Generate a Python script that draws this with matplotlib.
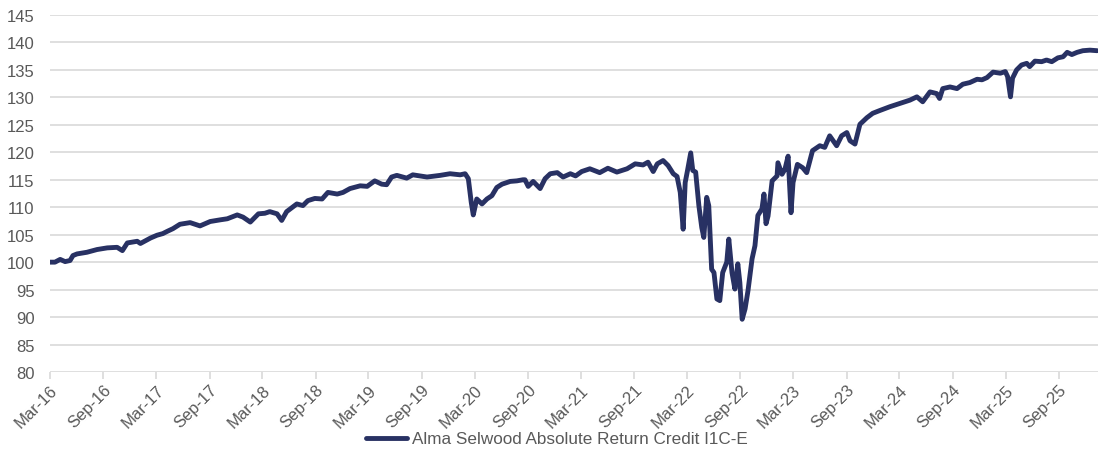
import matplotlib
matplotlib.use("Agg")
import matplotlib.pyplot as plt
import matplotlib.dates as mdates
import pandas as pd

# Fund NAV index
dates = [
    "2016-03-01", "2016-03-18", "2016-04-05", "2016-04-22", "2016-05-09", "2016-05-19",
    "2016-06-02", "2016-07-06", "2016-08-10", "2016-09-14", "2016-10-18", "2016-11-05",
    "2016-11-22", "2016-12-26", "2017-01-06", "2017-02-10", "2017-03-04", "2017-03-24",
    "2017-04-08", "2017-04-28", "2017-05-22", "2017-06-26", "2017-07-30", "2017-09-03",
    "2017-10-07", "2017-11-01", "2017-12-05", "2017-12-25", "2018-01-19", "2018-02-16",
    "2018-03-10", "2018-03-27", "2018-04-21", "2018-05-07", "2018-05-24", "2018-06-28",
    "2018-07-19", "2018-08-05", "2018-08-29", "2018-09-23", "2018-10-13", "2018-11-14",
    "2018-12-04", "2018-12-28", "2019-02-01", "2019-02-25", "2019-03-23", "2019-04-16",
    "2019-05-03", "2019-05-20", "2019-06-07", "2019-07-11", "2019-08-01", "2019-09-19",
    "2019-11-03", "2019-12-07", "2020-01-11", "2020-01-28", "2020-02-08", "2020-02-18",
    "2020-02-25", "2020-03-08", "2020-03-26", "2020-04-12", "2020-04-29", "2020-05-16",
    "2020-06-03", "2020-07-01", "2020-07-24", "2020-08-14", "2020-08-21", "2020-09-01",
    "2020-09-18", "2020-10-12", "2020-10-29", "2020-11-16", "2020-12-10", "2020-12-30",
    "2021-01-24", "2021-02-11", "2021-03-04", "2021-04-01", "2021-05-05", "2021-06-02",
    "2021-07-03", "2021-08-07", "2021-09-04", "2021-10-01", "2021-10-18", "2021-11-05",
    "2021-11-19", "2021-12-09", "2021-12-26", "2022-01-13", "2022-01-26", "2022-02-06",
    "2022-02-16", "2022-02-23", "2022-03-03", "2022-03-14", "2022-03-21", "2022-03-31",
    "2022-04-11", "2022-04-21", "2022-04-28", "2022-05-08", "2022-05-15", "2022-05-25",
    "2022-06-02", "2022-06-12", "2022-06-22", "2022-07-02", "2022-07-16", "2022-07-23",
    "2022-08-03", "2022-08-13", "2022-08-23", "2022-08-30", "2022-09-07", "2022-09-17",
    "2022-09-27", "2022-10-11", "2022-10-21", "2022-10-31", "2022-11-14", "2022-11-21",
    "2022-11-28", "2022-12-05", "2022-12-19", "2023-01-05", "2023-01-08", "2023-01-22",
    "2023-02-01", "2023-02-12", "2023-02-22", "2023-03-01", "2023-03-16", "2023-04-03",
    "2023-04-17", "2023-05-07", "2023-06-01", "2023-06-18", "2023-07-05", "2023-07-29",
    "2023-08-15", "2023-09-02", "2023-09-13", "2023-09-30", "2023-10-17", "2023-11-10",
    "2023-11-30", "2023-12-24", "2024-01-28", "2024-03-02", "2024-04-06", "2024-04-30",
    "2024-05-20", "2024-06-14", "2024-07-07", "2024-07-17", "2024-07-28", "2024-08-22",
    "2024-09-15", "2024-10-05", "2024-10-29", "2024-11-23", "2024-12-10", "2024-12-27",
    "2025-01-17", "2025-02-11", "2025-02-28", "2025-03-08", "2025-03-18", "2025-03-25",
    "2025-04-08", "2025-04-25", "2025-05-13", "2025-05-23", "2025-06-10", "2025-07-03",
    "2025-07-20", "2025-08-07", "2025-08-28", "2025-09-15", "2025-09-29", "2025-10-15",
    "2025-11-02", "2025-11-22", "2025-12-16", "2026-01-10",
]
values = [
    100.0, 100.0, 100.5, 100.1, 100.3, 101.2,
    101.5, 101.8, 102.3, 102.6, 102.7, 102.1,
    103.5, 103.8, 103.4, 104.4, 104.9, 105.2,
    105.6, 106.1, 106.9, 107.2, 106.6, 107.4,
    107.7, 107.9, 108.6, 108.2, 107.3, 108.8,
    108.9, 109.2, 108.8, 107.6, 109.2, 110.6,
    110.3, 111.2, 111.6, 111.5, 112.7, 112.4,
    112.7, 113.4, 113.9, 113.8, 114.8, 114.2,
    114.1, 115.5, 115.8, 115.3, 115.9, 115.5,
    115.8, 116.1, 115.9, 116.1, 115.2, 110.9,
    108.6, 111.5, 110.6, 111.5, 112.1, 113.6,
    114.2, 114.7, 114.8, 115.0, 115.0, 113.8,
    114.7, 113.4, 115.2, 116.1, 116.3, 115.5,
    116.1, 115.7, 116.5, 117.0, 116.3, 117.1,
    116.4, 117.0, 117.9, 117.7, 118.2, 116.5,
    117.9, 118.5, 117.6, 116.1, 115.6, 112.7,
    106.0, 114.5, 116.7, 119.9, 116.7, 116.4,
    110.3, 106.3, 104.5, 111.8, 110.3, 98.7,
    98.1, 93.3, 93.0, 98.1, 100.0, 104.2,
    98.1, 95.1, 99.7, 96.3, 89.6, 91.5,
    94.8, 100.6, 103.0, 108.5, 109.7, 112.4,
    107.0, 108.4, 114.8, 115.7, 118.1, 116.0,
    116.9, 119.3, 109.0, 114.5, 117.8, 117.2,
    116.3, 120.3, 121.2, 120.9, 123.0, 121.2,
    123.0, 123.6, 122.1, 121.5, 125.1, 126.3,
    127.1, 127.6, 128.3, 128.9, 129.5, 130.1,
    129.2, 131.0, 130.7, 129.8, 131.6, 131.9,
    131.6, 132.4, 132.7, 133.3, 133.2, 133.6,
    134.6, 134.4, 134.7, 133.8, 130.1, 133.5,
    135.0, 135.9, 136.2, 135.6, 136.6, 136.5,
    136.8, 136.5, 137.2, 137.4, 138.2, 137.8,
    138.2, 138.5, 138.6, 138.5,
]
series_name = "Alma Selwood Absolute Return Credit I1C-E"

x = pd.to_datetime(dates)

plt.rcParams["font.family"] = ["Liberation Sans", "DejaVu Sans"]

fig = plt.figure(figsize=(10.98, 4.52), dpi=100)
ax = fig.add_axes([50 / 1098, 1 - 373 / 452, 1 - 50 / 1098, (373 - 16) / 452])

ax.plot(x, values, color="#283163", linewidth=3.5, solid_joinstyle="round",
        solid_capstyle="round", label=series_name, zorder=3)

ax.set_ylim(80, 145)
ax.set_yticks(range(80, 146, 5))
ax.set_xlim(pd.Timestamp("2016-03-01"), pd.Timestamp("2026-01-13"))
ax.xaxis.set_major_locator(mdates.MonthLocator(bymonth=[3, 9]))
ax.xaxis.set_major_formatter(mdates.DateFormatter("%b-%y"))

ax.grid(axis="y", color="#d9d9d9", linewidth=1.2)
ax.set_axisbelow(True)
for side in ["top", "right", "left", "bottom"]:
    ax.spines[side].set_visible(False)

ax.tick_params(axis="y", length=0, labelsize=12, labelcolor="#595959", pad=11)
ax.tick_params(axis="x", length=5, color="#d9d9d9", width=1.2,
               labelsize=12, labelcolor="#595959", pad=2)
for lbl in ax.get_xticklabels():
    lbl.set_rotation(45)
    lbl.set_ha("right")
    lbl.set_rotation_mode("anchor")

fig.legend(loc="center", bbox_to_anchor=(557 / 1098, 1 - 440 / 452),
           frameon=False, fontsize=12.3, labelcolor="#595959",
           handlelength=2.4, handletextpad=0.25)

fig.savefig("out.png", dpi=100)
